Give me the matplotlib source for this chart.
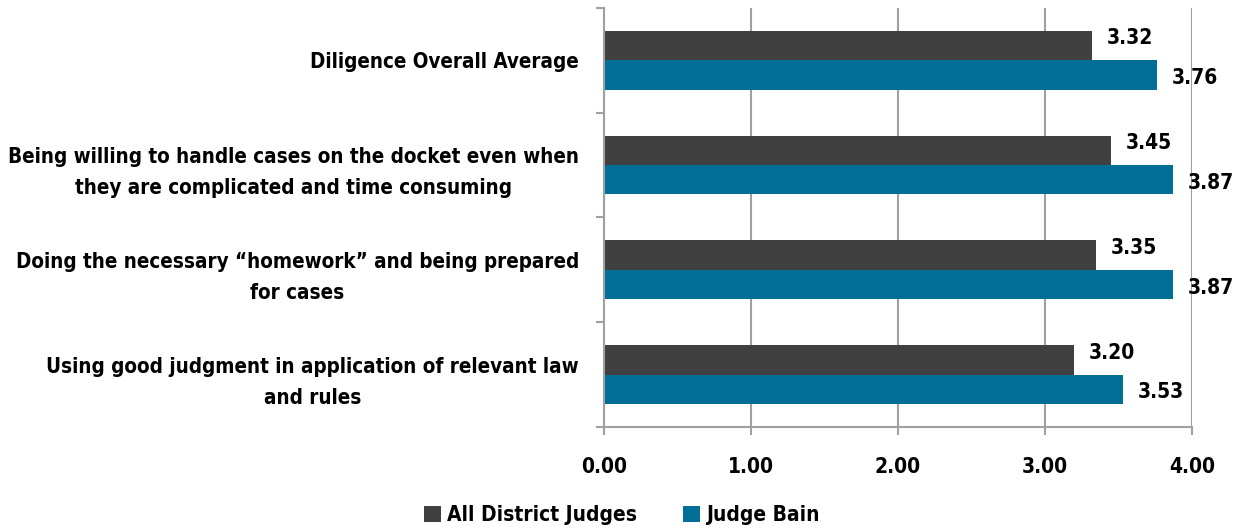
import matplotlib
matplotlib.use("Agg")
import matplotlib.pyplot as plt
import numpy as np

categories = [
    "Diligence Overall Average",
    "Being willing to handle cases on the docket even when\nthey are complicated and time consuming",
    "Doing the necessary \u201chomework\u201d and being prepared\nfor cases",
    "Using good judgment in application of relevant law\nand rules",
]
all_district = [3.32, 3.45, 3.35, 3.20]
judge_bain = [3.76, 3.87, 3.87, 3.53]
series_names = ["All District Judges", "Judge Bain"]
x_ticks = [0, 1, 2, 3, 4]

# узкий жирный шрифт, как Arial Narrow в оригинале
plt.rcParams["font.family"] = ["DejaVu Sans"]
plt.rcParams["font.stretch"] = "condensed"
plt.rcParams["font.weight"] = "bold"
FS = 15

GRAY = "#404040"
BLUE = "#006e96"
LINE = "#a0a0a0"

fig = plt.figure(figsize=(12.39, 5.31), dpi=100)
ax = fig.add_axes([0.4875, 0.196, 0.962 - 0.4875, 0.985 - 0.196])

y = np.arange(len(categories))
h = 0.28
b1 = ax.barh(y - h / 2, all_district, height=h, color=GRAY, label=series_names[0])
b2 = ax.barh(y + h / 2, judge_bain, height=h, color=BLUE, label=series_names[1])

for bars, vals, dy in ((b1, all_district, -0.07), (b2, judge_bain, 0.03)):
    for bar, v in zip(bars, vals):
        ax.text(v + 0.1, bar.get_y() + bar.get_height() / 2 + dy, f"{v:.2f}",
                ha="left", va="center", fontsize=FS, fontweight="bold")

ax.set_xlim(0, 4)
ax.set_ylim(len(categories) - 0.5, -0.5)
ax.set_xticks(x_ticks)
ax.set_xticklabels([f"{t:.2f}" for t in x_ticks], fontsize=FS, fontweight="bold")
ax.tick_params(axis="x", length=6, color=LINE, width=1.5, pad=16)

ax.set_yticks(np.arange(len(categories) + 1) - 0.5)
ax.set_yticklabels([])
ax.tick_params(axis="y", which="major", length=6, color=LINE, width=1.5)
ax.set_yticks(y, minor=True)
ax.set_yticklabels(categories, minor=True, fontsize=14.8, fontweight="bold",
                   multialignment="center", linespacing=1.7)
ax.tick_params(axis="y", which="minor", length=0, pad=18)

ax.grid(axis="x", color=LINE, linewidth=1.5)
ax.set_axisbelow(True)
for s in ("top", "right"):
    ax.spines[s].set_visible(False)
for s in ("left", "bottom"):
    ax.spines[s].set_color(LINE)
    ax.spines[s].set_linewidth(1.5)

fig.legend(loc="center", bbox_to_anchor=(0.502, 0.03), ncol=2, frameon=False,
           fontsize=FS, handlelength=0.8, handleheight=0.8, handletextpad=0.3,
           columnspacing=2.2)

fig.savefig("out.png", dpi=100)
